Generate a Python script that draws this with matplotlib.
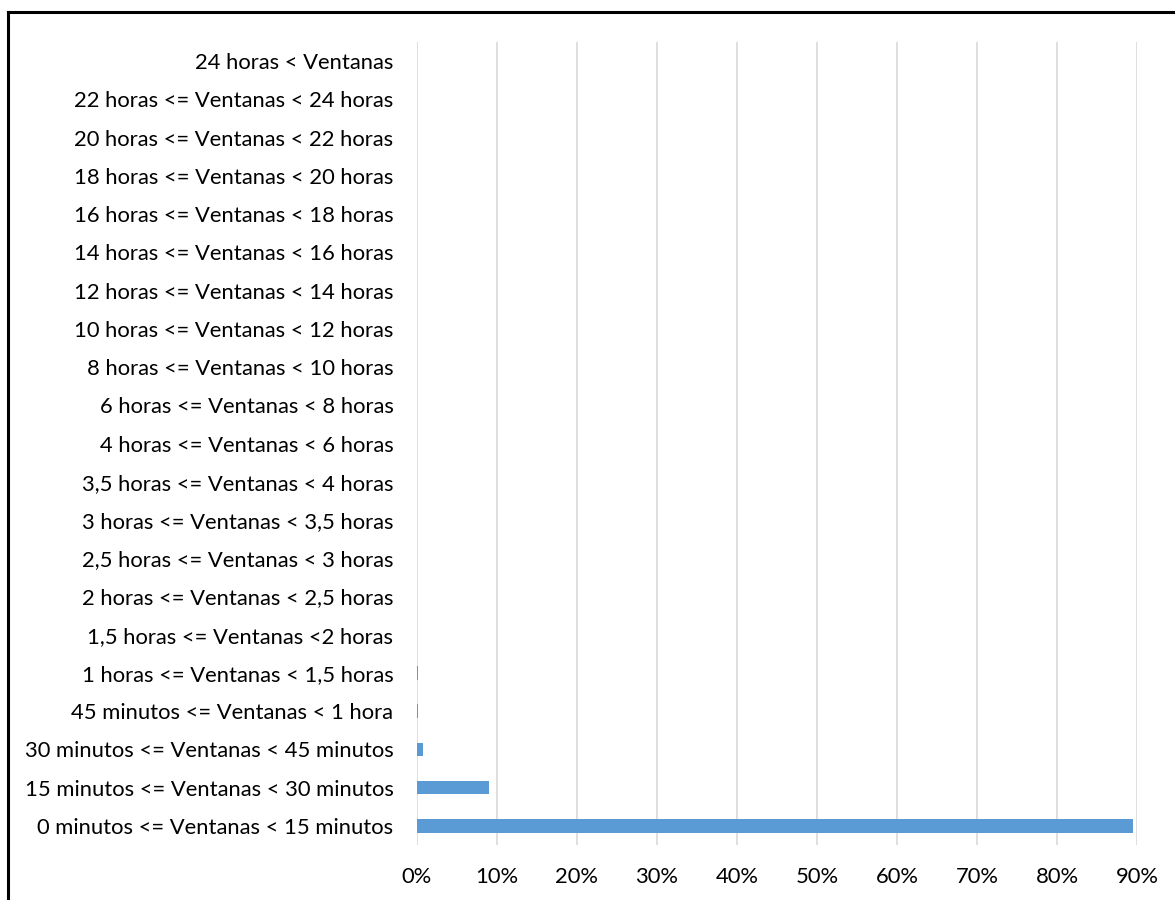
import matplotlib
matplotlib.use("Agg")
import matplotlib.pyplot as plt
from matplotlib.lines import Line2D
from matplotlib.ticker import PercentFormatter

# categories listed bottom -> top
categories = [
    "0 minutos <= Ventanas < 15 minutos",
    "15 minutos <= Ventanas < 30 minutos",
    "30 minutos <= Ventanas < 45 minutos",
    "45 minutos <= Ventanas < 1 hora",
    "1 horas <= Ventanas < 1,5 horas",
    "1,5 horas <= Ventanas <2 horas",
    "2 horas <= Ventanas < 2,5 horas",
    "2,5 horas <= Ventanas < 3 horas",
    "3 horas <= Ventanas < 3,5 horas",
    "3,5 horas <= Ventanas < 4 horas",
    "4 horas <= Ventanas < 6 horas",
    "6 horas <= Ventanas < 8 horas",
    "8 horas <= Ventanas < 10 horas",
    "10 horas <= Ventanas < 12 horas",
    "12 horas <= Ventanas < 14 horas",
    "14 horas <= Ventanas < 16 horas",
    "16 horas <= Ventanas < 18 horas",
    "18 horas <= Ventanas < 20 horas",
    "20 horas <= Ventanas < 22 horas",
    "22 horas <= Ventanas < 24 horas",
    "24 horas < Ventanas",
]
values = [0.895, 0.090, 0.008, 0.0015, 0.001,
          0, 0, 0, 0, 0, 0, 0, 0, 0, 0, 0, 0, 0, 0, 0, 0]

plt.rcParams['font.family'] = ['Lato', 'DejaVu Sans']

fig = plt.figure(figsize=(11.75, 9), dpi=100)
ax = fig.add_axes([417/1175, 1 - 845/900, (1137 - 417)/1175, (845 - 42)/900])

ax.barh(range(len(categories)), values, height=0.35, color='#5b9bd5', zorder=3)
ax.set_yticks(range(len(categories)))
ax.set_yticklabels(categories, fontsize=15.8)
ax.set_ylim(-0.5, len(categories) - 0.5)
ax.set_xlim(0, 0.9)
ax.set_xticks([i / 10 for i in range(10)])
ax.xaxis.set_major_formatter(PercentFormatter(1.0, decimals=0))
ax.tick_params(axis='x', labelsize=15.8, length=0, pad=16)
ax.tick_params(axis='y', length=0, pad=17)
ax.grid(axis='x', color='#d9d9d9', linewidth=1.2, zorder=0)
for s in ax.spines.values():
    s.set_visible(False)

# outer frame (only top and left edges visible)
fig.add_artist(Line2D([8/1175, 1.0], [1 - 12/900, 1 - 12/900], color='black', linewidth=2.2,
                      transform=fig.transFigure))
fig.add_artist(Line2D([8/1175, 8/1175], [0, 1 - 12/900], color='black', linewidth=2.2,
                      transform=fig.transFigure))

fig.savefig('out.png', dpi=100)
